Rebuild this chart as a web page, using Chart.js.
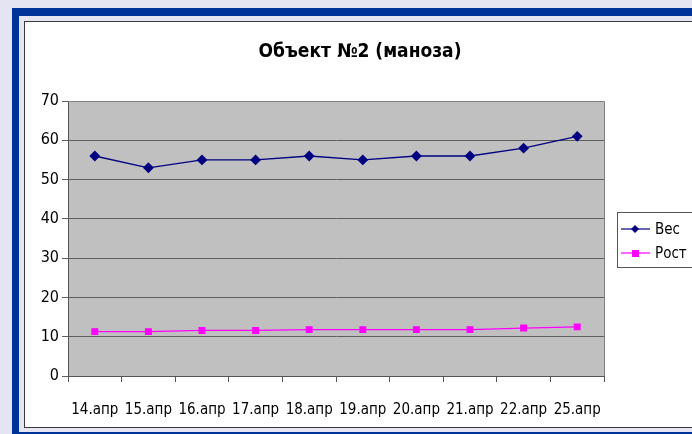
<!DOCTYPE html>
<html>
<head>
<meta charset="utf-8">
<script src="https://cdn.jsdelivr.net/npm/chart.js@4.4.0/dist/chart.umd.min.js"></script>
<style>
  html, body { margin: 0; padding: 0; }
  body { width: 692px; height: 434px; overflow: hidden; background: #e4e4f2; position: relative; }
  #frame { position: absolute; left: 12px; top: 8px; width: 700px; height: 440px; background: #003399; }
  #gap { position: absolute; left: 19px; top: 16px; width: 700px; height: 416px; background: #e6e6f3; }
  #box { position: absolute; left: 24px; top: 21px; width: 700px; height: 405px; background: #fff; border: 1px solid #3a3a3a; }
  #myChart { position: absolute; left: 25px; top: 22px; }
</style>
</head>
<body>
<div id="frame"></div>
<div id="gap"></div>
<div id="box"></div>
<canvas id="myChart" width="667" height="405"></canvas>
<script>
var labels = ["14.апр", "15.апр", "16.апр", "17.апр", "18.апр", "19.апр", "20.апр", "21.апр", "22.апр", "25.апр"];
var vesData = [56, 53, 55, 55, 56, 55, 56, 56, 58, 61];
var rostData = [11.3, 11.3, 11.6, 11.6, 11.8, 11.8, 11.8, 11.8, 12.2, 12.5];
var yTicks = [0, 10, 20, 30, 40, 50, 60, 70];
var chartTitle = "Объект №2 (маноза)";

var FONT = "'DejaVu Sans Condensed', 'DejaVu Sans'";

// серый фон области построения
var plotBg = {
  id: "plotBg",
  beforeDraw: function (chart) {
    var a = chart.chartArea;
    var ctx = chart.ctx;
    ctx.save();
    ctx.fillStyle = "#c0c0c0";
    ctx.fillRect(a.left, a.top, a.right - a.left, a.bottom - a.top);
    ctx.restore();
  },
  afterDatasetsDraw: function (chart) {
    var a = chart.chartArea;
    var ctx = chart.ctx;
    ctx.save();
    ctx.strokeStyle = "#808080";
    ctx.lineWidth = 1;
    ctx.beginPath();
    ctx.moveTo(a.left, a.top + 0.5);
    ctx.lineTo(Math.round(a.right) + 0.5, a.top + 0.5);
    ctx.lineTo(Math.round(a.right) + 0.5, a.bottom);
    ctx.stroke();
    ctx.restore();
  }
};

// заголовок по центру всей рамки диаграммы (рамка шире окна)
var boxTitle = {
  id: "boxTitle",
  afterDraw: function (chart) {
    var ctx = chart.ctx;
    ctx.save();
    ctx.fillStyle = "#000";
    ctx.font = "bold 19px " + FONT;
    ctx.textAlign = "center";
    ctx.textBaseline = "middle";
    ctx.fillText(chartTitle, 335, 30);
    ctx.restore();
  }
};

// легенда справа, как в Excel (линия + маркер)
var sideLegend = {
  id: "sideLegend",
  afterDraw: function (chart) {
    var ctx = chart.ctx;
    var a = chart.chartArea;
    var x0 = a.right + 13;
    var y0 = 190;
    ctx.save();
    ctx.strokeStyle = "#555";
    ctx.lineWidth = 1;
    ctx.strokeRect(x0 + 0.5, y0 + 0.5, 75, 55);
    chart.data.datasets.forEach(function (ds, i) {
      var y = y0 + 17 + i * 24;
      ctx.strokeStyle = ds.borderColor;
      ctx.lineWidth = 1.2;
      ctx.beginPath();
      ctx.moveTo(x0 + 4, y);
      ctx.lineTo(x0 + 33, y);
      ctx.stroke();
      ctx.fillStyle = ds.pointBackgroundColor;
      if (ds.pointStyle === "rectRot") {
        ctx.beginPath();
        ctx.moveTo(x0 + 18, y - 4);
        ctx.lineTo(x0 + 22, y);
        ctx.lineTo(x0 + 18, y + 4);
        ctx.lineTo(x0 + 14, y);
        ctx.closePath();
        ctx.fill();
      } else {
        ctx.fillRect(x0 + 15, y - 3, 7, 7);
      }
      ctx.fillStyle = "#000";
      ctx.font = "15px " + FONT;
      ctx.textBaseline = "middle";
      ctx.fillText(ds.label, x0 + 38, y + 1);
    });
    ctx.restore();
  }
};

var ctx = document.getElementById("myChart").getContext("2d");
var chart = new Chart(ctx, {
  type: "line",
  data: {
    labels: labels,
    datasets: [
      {
        label: "Вес",
        data: vesData,
        borderColor: "#000080",
        backgroundColor: "#000080",
        pointBackgroundColor: "#000080",
        pointBorderColor: "#000080",
        pointStyle: "rectRot",
        pointRadius: 4.5,
        borderWidth: 1.3,
        tension: 0
      },
      {
        label: "Рост",
        data: rostData,
        borderColor: "#ff00ff",
        backgroundColor: "#ff00ff",
        pointBackgroundColor: "#ff00ff",
        pointBorderColor: "#ff00ff",
        pointStyle: "rect",
        pointRadius: 4,
        borderWidth: 1.3,
        tension: 0
      }
    ]
  },
  options: {
    responsive: false,
    animation: false,
    layout: { padding: { left: 0, right: 88, top: 79, bottom: 0 } },
    plugins: {
      legend: { display: false },
      tooltip: { enabled: false },
      title: { display: false }
    },
    scales: {
      x: {
        offset: true,
        grid: { offset: true, drawOnChartArea: false, tickLength: 6, color: "#555" },
        border: { color: "#555" },
        ticks: { color: "#000", font: { family: FONT, size: 15 }, padding: 19, maxRotation: 0, autoSkip: false },
        afterFit: function (scale) { scale.height = 51; }
      },
      y: {
        min: 0,
        max: 70,
        afterBuildTicks: function (scale) {
          scale.ticks = yTicks.map(function (v) { return { value: v }; });
        },
        grid: { color: "#5f5f5f", tickLength: 6 },
        border: { color: "#555" },
        ticks: { color: "#000", font: { family: FONT, size: 16 }, padding: 3 },
        afterFit: function (scale) { scale.width = 43; }
      }
    }
  },
  plugins: [plotBg, boxTitle, sideLegend]
});
</script>
</body>
</html>
